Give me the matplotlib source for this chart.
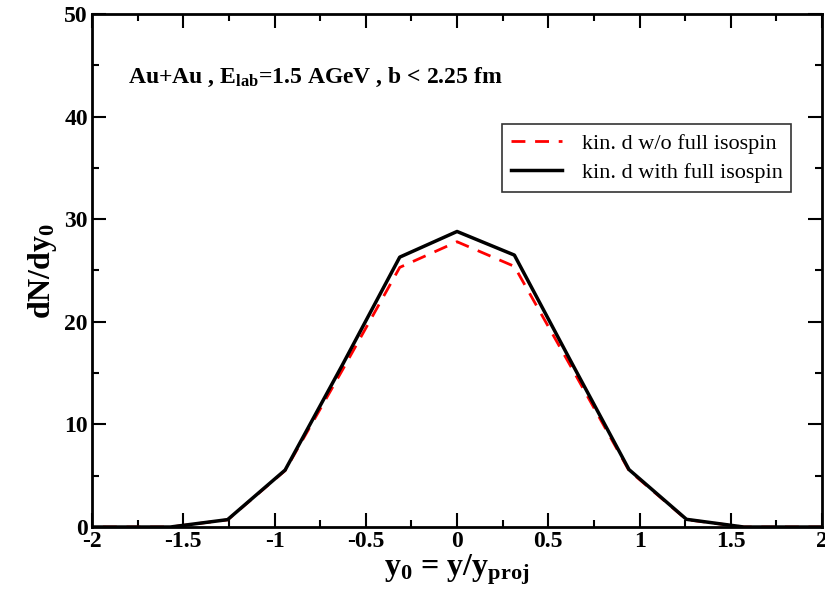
import numpy as np
import matplotlib
matplotlib.use("Agg")
import matplotlib.pyplot as plt
from matplotlib.ticker import MultipleLocator

# rapidity bins (y0) and yields
y0 = [-2.199, -1.885, -1.571, -1.257, -0.942, -0.628, -0.314, 0.0,
      0.314, 0.628, 0.942, 1.257, 1.571, 1.885, 2.199]
dndy_wo_iso = [0.0, 0.0, 0.0, 0.70, 5.5, 15.3, 25.3, 27.8,
               25.4, 15.5, 5.5, 0.72, 0.0, 0.0, 0.0]
dndy_full_iso = [0.0, 0.0, 0.0, 0.72, 5.55, 15.8, 26.3, 28.8,
                 26.5, 16.0, 5.6, 0.75, 0.0, 0.0, 0.0]

label_wo = "kin. d w/o full isospin"
label_full = "kin. d with full isospin"
xtick_labels = ['-2', '-1.5', '-1', '-0.5', '0', '0.5', '1', '1.5', '2']

plt.rcParams['font.family'] = ['Liberation Serif', 'DejaVu Serif']
plt.rcParams['mathtext.fontset'] = 'custom'
plt.rcParams['mathtext.rm'] = 'Liberation Serif'
plt.rcParams['mathtext.bf'] = 'Liberation Serif:bold'
plt.rcParams['axes.unicode_minus'] = False

fig = plt.figure(figsize=(8.25, 5.98), dpi=100)
ax = fig.add_axes([0.1115, 0.1187, 0.885, 0.858])

ax.plot(y0, dndy_wo_iso, color='red', lw=2.0, ls=(0, (5, 3.5)), label=label_wo)
ax.plot(y0, dndy_full_iso, color='black', lw=2.5, label=label_full)

ax.set_xlim(-2, 2)
ax.set_ylim(0, 50)
ax.set_xticks(np.arange(-2, 2.01, 0.5))
ax.set_xticklabels(xtick_labels)
ax.xaxis.set_minor_locator(MultipleLocator(0.25))
ax.yaxis.set_major_locator(MultipleLocator(10))
ax.yaxis.set_minor_locator(MultipleLocator(5))

ax.tick_params(which='both', direction='in', top=True, right=True, width=1.5)
ax.tick_params(which='major', length=10, labelsize=17, pad=3)
ax.tick_params(which='minor', length=5)
for lab in ax.get_xticklabels() + ax.get_yticklabels():
    lab.set_fontweight('bold')
for sp in ax.spines.values():
    sp.set_linewidth(2)

ax.set_xlabel(r'$\mathbf{y_0}$ = $\mathbf{y/y_{proj}}$', fontsize=23, fontweight='bold', labelpad=0)
ax.set_ylabel(r'dN/d$\mathbf{y_0}$', fontsize=23, fontweight='bold', labelpad=4)

ax.text(0.05, 0.865, r'Au+Au , $\mathbf{E_{lab}}$=1.5 AGeV , b < 2.25 fm',
        transform=ax.transAxes, fontsize=17, fontweight='bold')

leg = ax.legend(loc='upper right', bbox_to_anchor=(0.958, 0.785), fontsize=16,
                frameon=True, fancybox=False, edgecolor='black',
                handlelength=2.3, borderpad=0.4, labelspacing=0.4, handletextpad=0.9,
                borderaxespad=0)
leg.get_frame().set_linewidth(1.2)

fig.savefig('out.png', dpi=100)
